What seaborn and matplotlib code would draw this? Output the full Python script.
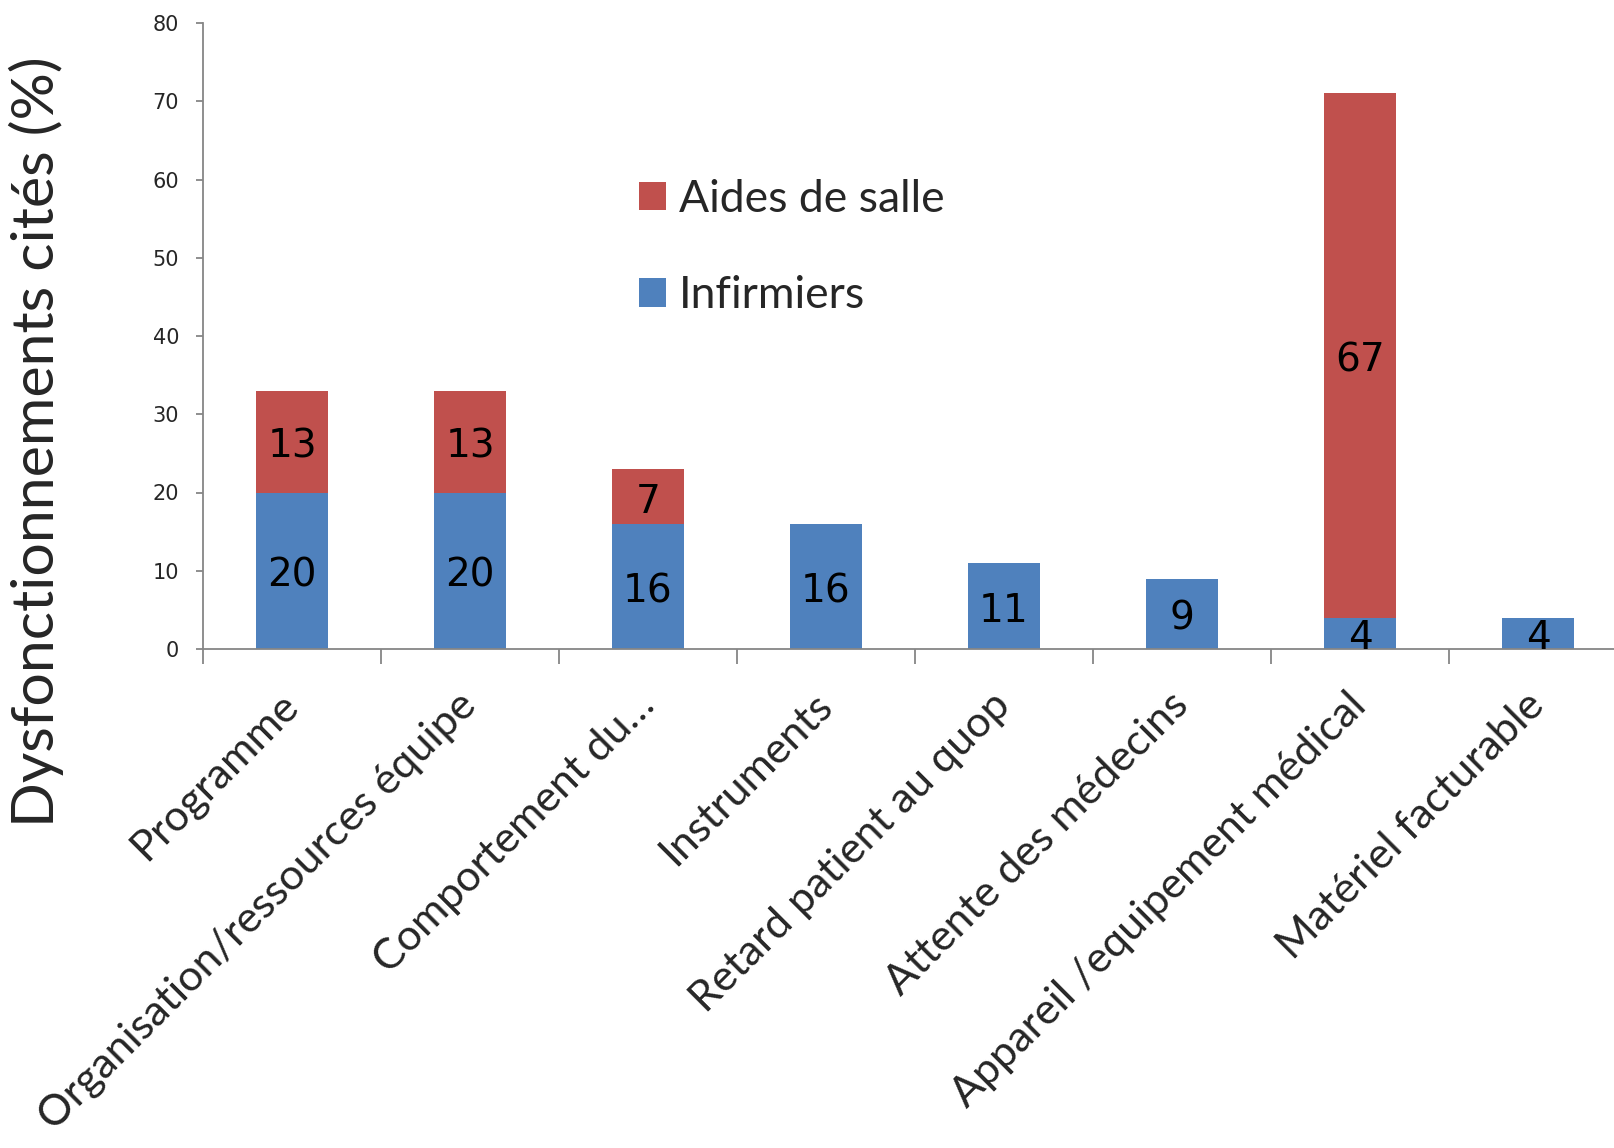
import matplotlib
matplotlib.use("Agg")
import matplotlib.pyplot as plt
import seaborn as sns
import pandas as pd
from matplotlib.patches import Patch
from matplotlib.ticker import FixedLocator
from matplotlib.transforms import offset_copy

categories = ["Programme", "Organisation/ressources équipe", "Comportement du…",
              "Instruments", "Retard patient au quop", "Attente des médecins",
              "Appareil /equipement médical", "Matériel facturable"]
infirmiers = [20, 20, 16, 16, 11, 9, 4, 4]
aides = [13, 13, 7, 0, 0, 0, 67, 0]
yticks = [0, 10, 20, 30, 40, 50, 60, 70, 80]

BLUE = "#4F81BD"
RED = "#C0504D"
GREY = "#868686"
LABEL_FONT = ["Lato", "DejaVu Sans"]
NUM_FONT = ["DejaVu Sans"]

sns.set_theme(style="white")
plt.rcParams["font.family"] = NUM_FONT

df = pd.DataFrame({"cat": categories, "inf": infirmiers, "aides": aides})
df["total"] = df["inf"] + df["aides"]

fig = plt.figure(figsize=(16.15, 11.48), dpi=100)
ax = fig.add_axes([203 / 1615, 1 - 649 / 1148, 1424 / 1615, (649 - 23) / 1148])

sns.barplot(data=df, x="cat", y="total", color=RED, width=0.4, saturation=1,
            linewidth=0, ax=ax)
sns.barplot(data=df, x="cat", y="inf", color=BLUE, width=0.4, saturation=1,
            linewidth=0, ax=ax)

txt_tr = offset_copy(ax.transData, fig=fig, x=0, y=-3.7, units="points")
for i, (b, r) in enumerate(zip(infirmiers, aides)):
    if b > 0:
        ax.text(i, b / 2, str(b), ha="center", va="center", fontsize=28,
                color="black", clip_on=True, family=NUM_FONT, transform=txt_tr)
    if r > 0:
        ax.text(i, b + r / 2, str(r), ha="center", va="center", fontsize=28,
                color="black", clip_on=True, family=NUM_FONT, transform=txt_tr)

ax.set_xlim(-0.5, len(categories) - 0.5)
ax.set_ylim(0, 80)
ax.set_yticks(yticks)
ax.set_yticklabels([str(v) for v in yticks], fontsize=15, family=NUM_FONT)
ax.tick_params(axis="y", direction="out", length=5.2, width=1.3, color=GREY,
               pad=12, left=True)

ax.set_xticks(range(len(categories)))
ax.set_xticklabels(categories, rotation=45, ha="right", va="center",
                   rotation_mode="anchor", fontsize=31, family=LABEL_FONT)
ax.tick_params(axis="x", which="major", length=0, pad=36)
ax.xaxis.set_minor_locator(FixedLocator([i - 0.5 for i in range(len(categories) + 1)]))
ax.tick_params(axis="x", which="minor", direction="out", length=11, width=1.3,
               color=GREY, bottom=True)

ax.set_xlabel("")
ax.set_ylabel("Dysfonctionnements cités (%)", fontsize=42.5, family=LABEL_FONT)
ax.yaxis.set_label_coords(64 / 1615, 1 - 442 / 1148, transform=fig.transFigure)

for s in ["top", "right"]:
    ax.spines[s].set_visible(False)
for s in ["left", "bottom"]:
    ax.spines[s].set_color(GREY)
    ax.spines[s].set_linewidth(1.3)

handles = [Patch(facecolor=RED, edgecolor="none", label="Aides de salle"),
           Patch(facecolor=BLUE, edgecolor="none", label="Infirmiers")]
fig.legend(handles=handles, loc="upper left", bbox_to_anchor=(639 / 1615, 1 - 179 / 1148),
           bbox_transform=fig.transFigure, frameon=False, borderpad=0,
           borderaxespad=0, handlelength=0.6, handleheight=0.6,
           handletextpad=0.3, labelspacing=1.24,
           prop={"family": LABEL_FONT, "size": 32})

fig.savefig("out.png", dpi=100)
